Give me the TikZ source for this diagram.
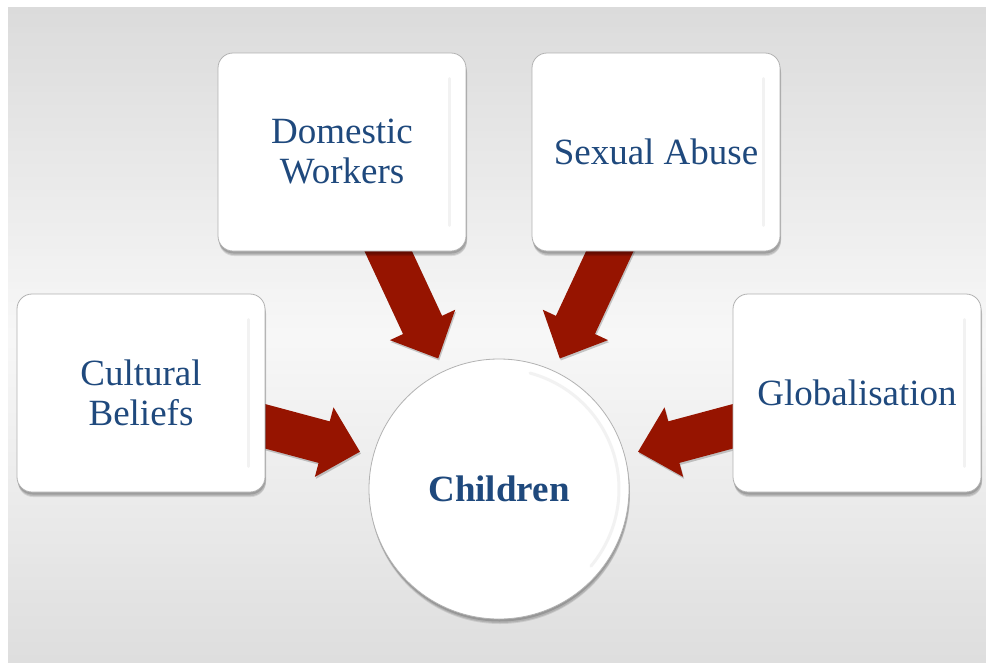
\documentclass[tikz,border=0pt]{standalone}
\usepackage{fontspec}
\setmainfont{Liberation Serif}
\usetikzlibrary{calc,shadows}
\definecolor{txtblue}{RGB}{31,73,125}
\definecolor{arrowred}{RGB}{150,20,0}
\pgfdeclarelayer{back}
\pgfdeclarelayer{mid}
\pgfsetlayers{back,mid,main}

\newcommand\blockarrow[2]{%
  \coordinate (#2tip)  at ($(ch.center)!144pt!(#1.center)$);
  \coordinate (#2base) at ($(#2tip)!37pt!(#1.center)$);
  \coordinate (#2s1) at ($(#1.center)!21.5pt!90:(#2tip)$);
  \coordinate (#2s2) at ($(#1.center)!21.5pt!-90:(#2tip)$);
  \coordinate (#2b1) at ($(#2base)!21.5pt!90:(#2tip)$);
  \coordinate (#2b2) at ($(#2base)!21.5pt!-90:(#2tip)$);
  \coordinate (#2h1) at ($(#2base)!36pt!90:(#2tip)$);
  \coordinate (#2h2) at ($(#2base)!36pt!-90:(#2tip)$);
  \fill[arrowfill] (#2s1) -- (#2b1) -- (#2h1) -- (#2tip) -- (#2h2) -- (#2b2) -- (#2s2) -- cycle;
}

\begin{document}
\begin{tikzpicture}[x=1pt,y=-1pt,
  softshadow/.style={
    drop shadow={shadow xshift=1pt, shadow yshift=-5pt, opacity=0.10, fill=black},
    drop shadow={shadow xshift=1pt, shadow yshift=-4pt, opacity=0.12, fill=black},
    drop shadow={shadow xshift=0.5pt, shadow yshift=-2.5pt, opacity=0.15, fill=black}},
  box/.style={draw=black!30, line width=0.8pt, fill=white, rounded corners=15pt,
    minimum width=248pt, minimum height=198pt, align=center, text=txtblue,
    font=\fontsize{37}{40}\selectfont, softshadow},
  hub/.style={circle, draw=black!30, line width=0.8pt, fill=white, minimum size=260pt,
    text=txtblue, font=\bfseries\fontsize{37}{40}\selectfont, softshadow},
  arrowfill/.style={fill=arrowred,
    drop shadow={shadow xshift=1pt, shadow yshift=-2pt, opacity=0.2, fill=black}},
  gloss/.style={black!5, line width=3pt, line cap=round}
]
\useasboundingbox (0,0) rectangle (986,662);
\begin{pgfonlayer}{back}
  \fill[white] (0,0) rectangle (986,662);
  \foreach \i in {0,...,99}{
    \pgfmathsetmacro\yy{7+6.55*\i}
    \pgfmathsetmacro\k{\i<50 ? 14-0.22*\i : 3+0.2*(\i-50)}
    \fill[black!\k] (8,\yy) rectangle (986,\yy+7.2);
  }
\end{pgfonlayer}

\node[hub] (ch) at (499,489) {Children};
\node[box] (dw) at (342,152) {Domestic\\Workers};
\node[box] (sa) at (656,152) {Sexual Abuse};
\node[box] (cb) at (141,393) {Cultural\\Beliefs};
\node[box] (gl) at (857,393) {Globalisation};

\foreach \n in {dw,sa,cb,gl}{
  \draw[gloss] ($(\n.north east)+(-17,26)$) -- ($(\n.south east)+(-17,-26)$);
}
\draw[black!5, line width=3pt, line cap=round] ($(ch.center)+(-75:120)$) arc[start angle=-75, end angle=40, radius=120];

\begin{pgfonlayer}{mid}
  \blockarrow{dw}{a}
  \blockarrow{sa}{b}
  \blockarrow{cb}{c}
  \blockarrow{gl}{d}
\end{pgfonlayer}
\end{tikzpicture}
\end{document}
